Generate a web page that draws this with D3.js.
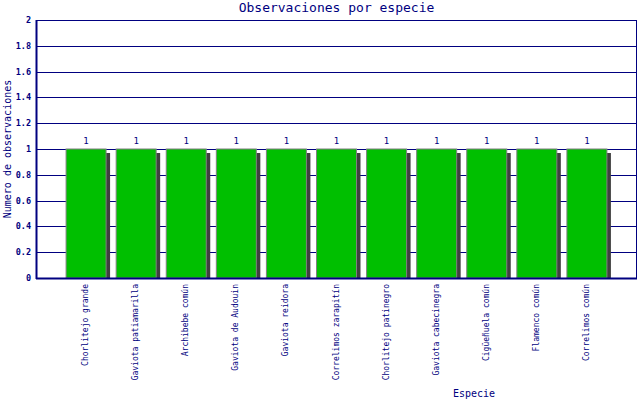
<!DOCTYPE html>
<html>
<head>
<meta charset="utf-8">
<script src="https://cdn.jsdelivr.net/npm/d3@7"></script>
<style>
  body { margin: 0; background: #fff; }
  text { font-family: "DejaVu Sans Mono", monospace; fill: #000080; }
</style>
</head>
<body>
<div id="chart"></div>
<script>
// DATA
const especies = [
    'Chorlitejo grande',
    'Gaviota patiamarilla',
    'Archibebe común',
    'Gaviota de Audouin',
    'Gaviota reidora',
    'Correlimos zarapitín',
    'Chorlitejo patinegro',
    'Gaviota cabecinegra',
    'Cigüeñuela común',
    'Flamenco común',
    'Correlimos común'
];
const observaciones = [1, 1, 1, 1, 1, 1, 1, 1, 1, 1, 1];
const yTicks = [0, 0.2, 0.4, 0.6, 0.8, 1, 1.2, 1.4, 1.6, 1.8, 2];

draw();

function draw() {

    const width = 640;
    const height = 400;
    const margin = {top: 20, right: 3, bottom: 122, left: 36};
    const navy = '#000080';

    const svg = d3.select('#chart')
        .append('svg')
            .attr('width', width)
            .attr('height', height);

    const x = d3.scalePoint()
        .domain(especies)
        .range([margin.left, width - margin.right])
        .padding(1);
    const y = d3.scaleLinear()
        .domain([0, 2])
        .range([height - margin.bottom, margin.top]);

    const barW = 40;

    // grid
    svg.append('g')
        .selectAll('line')
        .data(yTicks)
        .join('line')
            .attr('x1', margin.left)
            .attr('x2', width - margin.right)
            .attr('y1', d => Math.round(y(d)) + 0.5)
            .attr('y2', d => Math.round(y(d)) + 0.5)
            .attr('stroke', navy)
            .attr('stroke-width', 1);

    // shadows
    svg.append('g')
        .selectAll('rect')
        .data(observaciones)
        .join('rect')
            .attr('x', (d, i) => x(especies[i]) - barW / 2 + 4)
            .attr('y', d => y(d) + 4)
            .attr('width', barW)
            .attr('height', d => y(0) - y(d) - 4)
            .attr('fill', '#404040');

    // bars
    svg.append('g')
        .selectAll('rect')
        .data(observaciones)
        .join('rect')
            .attr('x', (d, i) => x(especies[i]) - barW / 2)
            .attr('y', d => y(d))
            .attr('width', barW)
            .attr('height', d => y(0) - y(d))
            .attr('fill', '#00bf00')
            .attr('stroke', '#808080')
            .attr('stroke-width', 1);

    // value labels
    svg.append('g')
        .selectAll('text')
        .data(observaciones)
        .join('text')
            .attr('x', (d, i) => x(especies[i]))
            .attr('y', d => y(d) - 5)
            .attr('text-anchor', 'middle')
            .attr('font-size', 9)
            .text(d => d);

    // frame
    svg.append('rect')
        .attr('x', margin.left + 0.5)
        .attr('y', margin.top + 0.5)
        .attr('width', width - margin.left - margin.right - 1)
        .attr('height', height - margin.top - margin.bottom)
        .attr('fill', 'none')
        .attr('stroke', navy)
        .attr('stroke-width', 1);
    svg.append('line')
        .attr('x1', margin.left)
        .attr('x2', width - margin.right)
        .attr('y1', y(0) + 0.5)
        .attr('y2', y(0) + 0.5)
        .attr('stroke', navy)
        .attr('stroke-width', 2);
    svg.append('line')
        .attr('x1', margin.left + 0.5)
        .attr('x2', margin.left + 0.5)
        .attr('y1', margin.top)
        .attr('y2', y(0) + 1)
        .attr('stroke', navy)
        .attr('stroke-width', 2);

    // y ticks
    svg.append('g')
        .selectAll('text')
        .data(yTicks)
        .join('text')
            .attr('x', margin.left - 5)
            .attr('y', d => y(d) + 3)
            .attr('text-anchor', 'end')
            .attr('font-size', 8.5)
            .attr('font-weight', 'bold')
            .text(d => d3.format('~g')(d));

    // x labels
    svg.append('g')
        .selectAll('text')
        .data(especies)
        .join('text')
            .attr('transform', d => `translate(${x(d) + 2}, ${y(0) + 6}) rotate(-90)`)
            .attr('text-anchor', 'end')
            .attr('font-size', 8)
            .text(d => d);

    // titles
    svg.append('text')
        .attr('x', (margin.left + width - margin.right) / 2)
        .attr('y', 12)
        .attr('text-anchor', 'middle')
        .attr('font-size', 13)
        .text('Observaciones por especie');

    svg.append('text')
        .attr('x', 474)
        .attr('y', 397)
        .attr('text-anchor', 'middle')
        .attr('font-size', 10)
        .text('Especie');

    svg.append('text')
        .attr('transform', `translate(11, ${(margin.top + y(0)) / 2}) rotate(-90)`)
        .attr('text-anchor', 'middle')
        .attr('font-size', 10)
        .text('Numero de observaciones');

}
</script>
</body>
</html>
